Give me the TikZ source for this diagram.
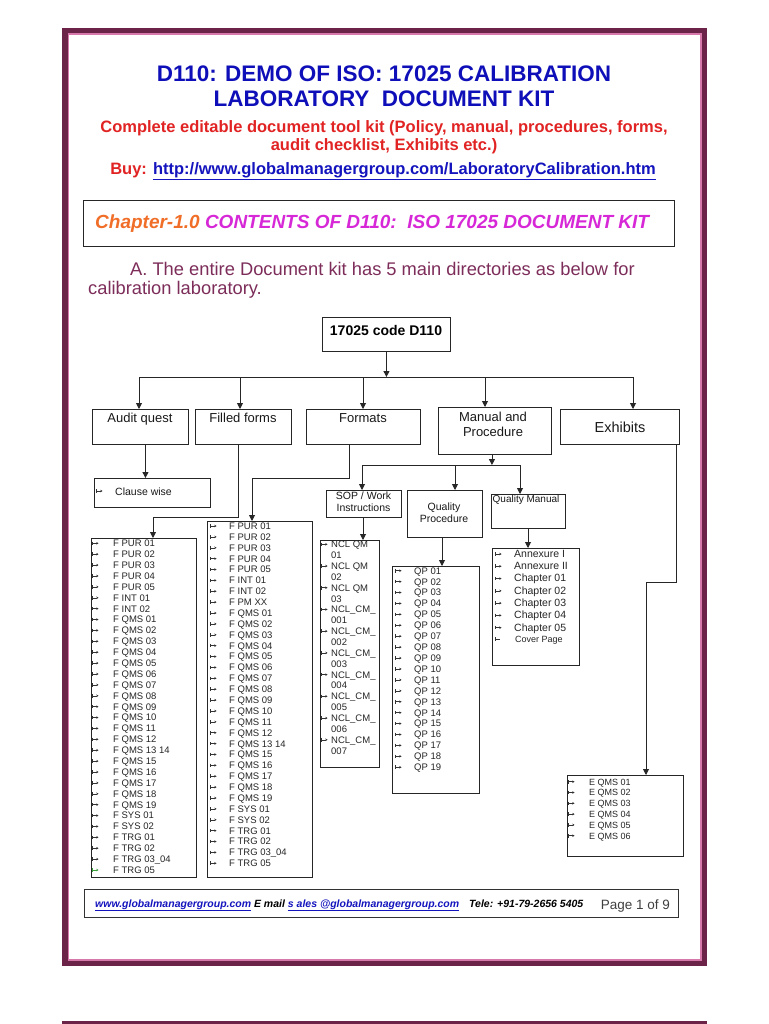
\documentclass[tikz,border=0pt]{standalone}
\usepackage{fontspec}
\setmainfont{Liberation Sans}
\usetikzlibrary{arrows.meta}
\definecolor{framecol}{RGB}{107,35,72}
\definecolor{pinkline}{RGB}{215,120,170}
\definecolor{ttlblue}{RGB}{15,15,185}
\definecolor{ttlred}{RGB}{225,35,35}
\definecolor{urlblue}{RGB}{20,20,190}
\definecolor{chorange}{RGB}{240,110,40}
\definecolor{chmag}{RGB}{215,40,215}
\definecolor{parcol}{RGB}{125,45,90}
\definecolor{mkgreen}{RGB}{60,160,60}
\newcommand\mklist[6]{%
  \foreach \t [count=\i from 0] in {#6} {
    \pgfmathsetmacro\yy{#3+\i*#4}
    \node[item] (#5\i) at (#2,\yy+3.4) {\t};
    \draw[mk] (#1,\yy-1.8) -- (#1,\yy+1.8);
    \draw[mk,-{Stealth[length=2.2pt,width=2.6pt]}] (#1,\yy) -- (#1+6.5,\yy);
  }}
\begin{document}
\begin{tikzpicture}[x=1pt,y=-1pt,
  box/.style={draw=black!85,line width=0.9pt,anchor=north west,inner sep=0pt},
  conn/.style={draw=black!85,line width=0.9pt},
  arr/.style={conn,-{Triangle[length=6pt,width=6pt]}},
  lbl/.style={inner sep=0pt,anchor=base,font=\fontsize{13}{15}\selectfont,text=black!90},
  slbl/.style={inner sep=0pt,anchor=base,font=\fontsize{10.5}{12}\selectfont,text=black!90},
  item/.style={anchor=base west,inner sep=0pt,font=\fontsize{9.5}{11}\selectfont,text=black!85},
  mk/.style={draw=black!80,line width=0.5pt},
  ttl/.style={inner sep=0pt,anchor=base,font=\bfseries\fontsize{22.5}{26}\selectfont,text=ttlblue},
  red/.style={inner sep=0pt,anchor=base,font=\bfseries\fontsize{16.5}{19}\selectfont,text=ttlred},
  par/.style={inner sep=0pt,anchor=base west,font=\fontsize{18.3}{20}\selectfont,text=parcol}
  ]
\useasboundingbox (0,0) rectangle (768,1024);
\fill[white] (0,0) rectangle (768,1024);
% page frame
\draw[framecol,line width=5.5pt] (64.75,30.75) rectangle (704.25,963.25);
\draw[pinkline,line width=1.5pt] (68.25,34.25) rectangle (700.75,959.75);
\fill[framecol] (62,1021) rectangle (707,1024);
% titles
\node[ttl] (t1) at (384,81.7) {D110: DEMO OF ISO: 17025 CALIBRATION};
\node[ttl] (t2) at (384,106.7) {LABORATORY\ \ DOCUMENT KIT};
\node[red] (r1) at (384,132.7) {Complete editable document tool kit (Policy, manual, procedures, forms,};
\node[red] (r2) at (384,151) {audit checklist, Exhibits etc.)};
\node[red] (r3) at (383,174.3) {Buy: \textcolor{urlblue}{\underline{http://www.globalmanagergroup.com/LaboratoryCalibration.htm}}};
% chapter box
\node[box,minimum width=591pt,minimum height=46pt] (chap) at (83,200) {};
\node[inner sep=0pt,anchor=base west,font=\bfseries\itshape\fontsize{19}{22}\selectfont] (chapt) at (95,229)
  {\textcolor{chorange}{Chapter-1.0} \textcolor{chmag}{CONTENTS OF D110:\ \ ISO 17025 DOCUMENT KIT}};
% paragraph
\node[par] (p1) at (130,275) {A. The entire Document kit has 5 main directories as below for};
\node[par] (p2) at (88,294) {calibration laboratory.};
% tree top
\node[box,minimum width=128pt,minimum height=34pt] (root) at (322,317) {};
\node[inner sep=0pt,anchor=base,font=\bfseries\fontsize{14}{16}\selectfont] (roott) at (386,335) {17025 code D110};
\node[box,minimum width=96pt,minimum height=35pt] (aq) at (92,409) {};
\node[box,minimum width=96pt,minimum height=35pt] (ff) at (195,409) {};
\node[box,minimum width=114pt,minimum height=35pt] (fmt) at (306,409) {};
\node[box,minimum width=113pt,minimum height=47pt] (man) at (438,407) {};
\node[box,minimum width=119pt,minimum height=35pt] (exh) at (560,409) {};
\node[lbl] (aqt) at (140,422) {Audit quest};
\node[lbl] (fft) at (243,422) {Filled forms};
\node[lbl] (fmtt) at (363,422) {Formats};
\node[lbl] (mant1) at (493,421.7) {Manual and};
\node[lbl] (mant2) at (493,436) {Procedure};
\node[lbl,font=\fontsize{14.5}{16}\selectfont] (exht) at (620,432) {Exhibits};
\coordinate (b1) at (139,377);
\coordinate (b2) at (240,377);
\coordinate (b3) at (363,377);
\coordinate (b4) at (485,377);
\coordinate (b5) at (633,377);
\draw[arr] (root.south) -- (root.south |- b1);
\draw[conn] (b1) -- (b5);
\draw[arr] (b1) -- (b1 |- aq.north);
\draw[arr] (b2) -- (b2 |- ff.north);
\draw[arr] (b3) -- (b3 |- fmt.north);
\draw[arr] (b4) -- (b4 |- man.north);
\draw[arr] (b5) -- (b5 |- exh.north);
% audit quest -> clause wise
\node[box,minimum width=116pt,minimum height=29pt] (cw) at (94,478) {};
\node[slbl,anchor=base west] (cwt) at (115,495) {Clause wise};
\draw[mk] (96,489.2) -- (96,492.8);
\draw[mk,-{Stealth[length=2.2pt,width=2.6pt]}] (96,491) -- (102.5,491);
\draw[arr] ([xshift=5pt]aq.south) -- ([xshift=5pt]aq.south |- cw.north);
% list boxes
\node[box,minimum width=105pt,minimum height=339pt] (l1) at (91,538) {};
\node[box,minimum width=105pt,minimum height=356pt] (l2) at (207,521) {};
\coordinate (ffa) at (238,517);
\coordinate (ffb) at (153,517);
\draw[conn] (ffa |- ff.south) -- (ffa) -- (ffb);
\draw[arr] (ffb) -- (ffb |- l1.north);
\coordinate (fma) at (349,478);
\coordinate (fmb) at (252,478);
\draw[conn] (fma |- fmt.south) -- (fma) -- (fmb);
\draw[arr] (fmb) -- (fmb |- l2.north);
\mklist{92}{113}{543.3}{10.89}{fa}{F PUR 01,F PUR 02,F PUR 03,F PUR 04,F PUR 05,F INT 01,F INT 02,F QMS 01,F QMS 02,F QMS 03,F QMS 04,F QMS 05,F QMS 06,F QMS 07,F QMS 08,F QMS 09,F QMS 10,F QMS 11,F QMS 12,F QMS 13 14,F QMS 15,F QMS 16,F QMS 17,F QMS 18,F QMS 19,F SYS 01,F SYS 02,F TRG 01,F TRG 02,F TRG 03\_04}
\node[item] (fa30) at (113,870+3.4) {F TRG 05};
\draw[mk,draw=mkgreen] (92,868.2) -- (92,871.8);
\draw[mk,draw=mkgreen,-{Stealth[length=2.2pt,width=2.6pt]}] (92,870) -- (98.5,870);
\mklist{210}{229}{526}{10.88}{fb}{F PUR 01,F PUR 02,F PUR 03,F PUR 04,F PUR 05,F INT 01,F INT 02,F PM XX,F QMS 01,F QMS 02,F QMS 03,F QMS 04,F QMS 05,F QMS 06,F QMS 07,F QMS 08,F QMS 09,F QMS 10,F QMS 11,F QMS 12,F QMS 13 14,F QMS 15,F QMS 16,F QMS 17,F QMS 18,F QMS 19,F SYS 01,F SYS 02,F TRG 01,F TRG 02,F TRG 03\_04,F TRG 05}
% manual and procedure subtree
\node[box,minimum width=75pt,minimum height=27pt] (sop) at (326,490) {};
\node[box,minimum width=75pt,minimum height=47pt] (qp) at (407,490) {};
\node[box,minimum width=74pt,minimum height=34pt] (qm) at (491,494) {};
\node[slbl] (sopt1) at (363.5,499.3) {SOP\ / Work};
\node[slbl] (sopt2) at (363.5,511.3) {Instructions};
\node[slbl] (qpt1) at (444,510) {Quality};
\node[slbl] (qpt2) at (444,522) {Procedure};
\node[slbl,anchor=base west,font=\fontsize{10}{12}\selectfont] (qmt) at (492.5,502.7) {Quality Manual};
\coordinate (m1) at (362,465);
\coordinate (m2) at (455,465);
\coordinate (m3) at (520,465);
\draw[arr] ([xshift=-3pt]man.south) -- ([xshift=-3pt]man.south |- m1);
\draw[conn] (m1) -- (m3);
\draw[arr] (m1) -- (m1 |- sop.north);
\draw[arr] (m2) -- (m2 |- qp.north);
\draw[arr] (m3) -- (m3 |- qm.north);
\node[box,minimum width=59pt,minimum height=227pt] (ncl) at (320,540) {};
\node[box,minimum width=87pt,minimum height=227pt] (qpl) at (392,566) {};
\node[box,minimum width=87pt,minimum height=117pt] (qml) at (492,548) {};
\coordinate (s1) at (363,517);
\draw[arr] (s1) -- (s1 |- ncl.north);
\coordinate (q1) at (442,537);
\draw[arr] (q1) -- (q1 |- qpl.north);
\coordinate (q2) at (528,528);
\draw[arr] (q2) -- (q2 |- qml.north);
\foreach \t [count=\i from 0] in {NCL QM,01,NCL QM,02,NCL QM,03,NCL\_CM\_,001,NCL\_CM\_,002,NCL\_CM\_,003,NCL\_CM\_,004,NCL\_CM\_,005,NCL\_CM\_,006,NCL\_CM\_,007} {
  \pgfmathsetmacro\yy{544.3+\i*10.86}
  \node[item] (nc\i) at (331,\yy+3.4) {\t};
  \ifodd\i\else
    \draw[mk] (321,\yy-1.8) -- (321,\yy+1.8);
    \draw[mk,-{Stealth[length=2.2pt,width=2.6pt]}] (321,\yy) -- (327.5,\yy);
  \fi
}
\mklist{395}{414}{570.7}{10.92}{qq}{QP 01,QP 02,QP 03,QP 04,QP 05,QP 06,QP 07,QP 08,QP 09,QP 10,QP 11,QP 12,QP 13,QP 14,QP 15,QP 16,QP 17,QP 18,QP 19}
\begin{scope}[item/.append style={font=\fontsize{10.5}{12}\selectfont}]
\mklist{495}{514}{554}{12.28}{qa}{Annexure I,Annexure II,Chapter 01,Chapter 02,Chapter 03,Chapter 04,Chapter 05}
\end{scope}
\node[item,font=\fontsize{9}{11}\selectfont] (cover) at (515,642.2) {Cover Page};
\draw[mk] (495,637.2) -- (495,640.8);
\draw[mk] (495,639) -- (500,639);
% exhibits subtree
\node[box,minimum width=116pt,minimum height=81pt] (eq) at (567,775) {};
\coordinate (e1) at (676,582);
\coordinate (e2) at (646,582);
\draw[conn] (e1 |- exh.south) -- (e1) -- (e2);
\draw[arr] (e2) -- (e2 |- eq.north);
\begin{scope}[item/.append style={font=\fontsize{9}{11}\selectfont}]
\mklist{568}{589}{781.7}{10.8}{ee}{E QMS 01,E QMS 02,E QMS 03,E QMS 04,E QMS 05,E QMS 06}
\end{scope}
% footer
\node[box,minimum width=594pt,minimum height=28pt,draw=black!80] (foot) at (84,889) {};
\node[inner sep=0pt,anchor=base west,font=\bfseries\itshape\fontsize{10.5}{12}\selectfont] (ft) at (95,907)
  {\textcolor{urlblue}{\underline{www.globalmanagergroup.com}} E mail \textcolor{urlblue}{\underline{s ales @globalmanagergroup.com}}\hspace{10pt}Tele: +91-79-2656 5405};
\node[inner sep=0pt,anchor=base east,font=\fontsize{13.5}{15}\selectfont,text=black!75] (pg) at (670,909) {Page 1 of 9};
\end{tikzpicture}
\end{document}
